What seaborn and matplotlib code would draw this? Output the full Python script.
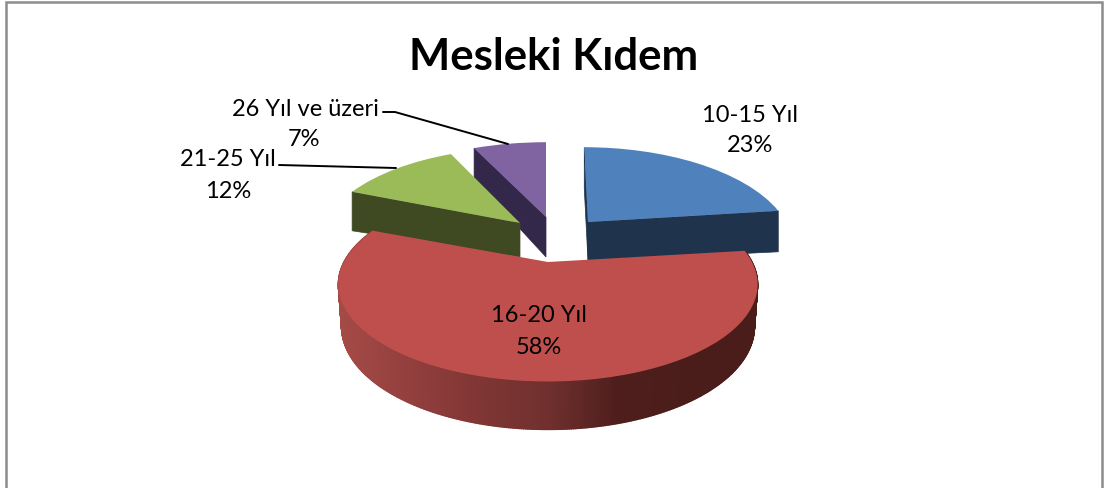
import numpy as np
import matplotlib
matplotlib.use("Agg")
import matplotlib.pyplot as plt
from matplotlib.transforms import Transform, Affine2D
import seaborn as sns

# ---- data ----
categories = ["10-15 Yıl", "16-20 Yıl", "21-25 Yıl", "26 Yıl ve üzeri"]
values = [23, 58, 12, 7]
percent_labels = ["23%", "58%", "12%", "7%"]
title = "Mesleki Kıdem"

# ---- styling / layout ----
top_colors = ["#4F81BD", "#BE4F4C", "#9BBB59", "#8064A2"]
side_colors = ["#1F334D", "#4A1D1B", "#3F4A22", "#33274A"]
rim_stops = ["#A54B47", "#933F3E", "#7F3634", "#70302E", "#4E1E1C", "#4A1D1B", "#4A1D1B"]
tips = [(588, 222), (548, 262), (520, 223), (546, 217)]
wedge_scale = [0.97, 1.0, 0.96, 1.0]
wedge_skew = [0.05, 0.0, 0.0, 0.0]
face_depth = [(41, 39), None, (39, 34), (31, 40)]
R, A, K = 204.0, 92.0, 0.23

sns.set_theme(style="white")
plt.rcParams["font.family"] = ["Lato", "DejaVu Sans"]


class Perspective(Transform):
    input_dims = output_dims = 2

    def transform_non_affine(self, values):
        v = np.asarray(values, dtype=float)
        w = 1 + K * v[:, 1]
        return np.column_stack([R * v[:, 0] / w, -A * v[:, 1] / w])


def project(theta_deg, i):
    t = np.radians(theta_deg)
    u, v = wedge_scale[i] * np.cos(t), np.sin(t)
    w = 1 + K * v
    dy = -A * v / w
    return tips[i][0] + R * u / w + wedge_skew[i] * dy, tips[i][1] + dy, v


fig = plt.figure(figsize=(11.07, 4.88), dpi=100)
ax = fig.add_axes([0, 0, 1, 1])
wedges, _ = ax.pie(values, startangle=90, counterclock=False, colors=top_colors,
                   wedgeprops={"linewidth": 0})
ax.set_aspect("auto")
ax.set_xlim(0, 1107)
ax.set_ylim(488, 0)
ax.set_axis_off()

persp = Perspective()
for i, wedge in enumerate(wedges):
    shear = Affine2D.from_values(1, 0, wedge_skew[i], 1, 0, 0)
    wedge.set_transform(Affine2D().scale(wedge_scale[i], 1) + persp + shear
                        + Affine2D().translate(*tips[i]) + ax.transData)

# draw order, back to front: purple, green, blue, red
for z, i in enumerate([3, 2, 0, 1]):
    wedge = wedges[i]
    wedge.set_zorder(10 + 2 * z + 1)
    if face_depth[i] is None:
        continue
    edges = sorted([wedge.theta1, wedge.theta2], key=lambda t: np.sin(np.radians(t)))
    visible = edges if wedge_skew[i] else edges[:1]
    for theta in visible:
        x, y, _v = project(theta, i)
        d_out, d_tip = face_depth[i]
        ax.fill([x, tips[i][0], tips[i][0], x],
                [y, tips[i][1], tips[i][1] + d_tip, y + d_out],
                color=side_colors[i], lw=0.5, zorder=10 + 2 * z)

# red outer rim with a horizontal shading
red = wedges[1]
th = np.linspace(red.theta1, red.theta2, 500)
xs, ys, vs = project(th, 1)
depth = 40 - 8 * np.minimum(vs, 0)
xb = tips[1][0] + (xs - tips[1][0]) * 0.985
yb = ys + depth
ramp = sns.blend_palette(rim_stops, 256)
for j in range(len(th) - 1):
    frac = (xs[j] - xs.min()) / (xs.max() - xs.min())
    ax.fill([xs[j], xs[j + 1], xb[j + 1], xb[j]],
            [ys[j], ys[j + 1], yb[j + 1], yb[j]],
            color=ramp[int(frac * 255)], lw=1.0, zorder=15.5)

# text
txt = dict(ha="center", va="center", fontsize=17, color="black", zorder=30)
label_xy = [((750, 116), (750, 146)), ((539, 316), (539, 348)),
            ((228, 160), (228, 192)), ((305, 109), (304, 139))]
for i, (a, b) in enumerate(label_xy):
    ax.text(*a, categories[i], **txt)
    ax.text(*b, percent_labels[i], **txt)
ax.text(554, 57, title, ha="center", va="center", fontsize=31.5,
        fontweight="bold", color="black", zorder=30)

# leader lines
ax.plot([383, 395, 508], [112, 112, 144], color="black", lw=1.4, zorder=30)
ax.plot([279, 396], [165, 168], color="black", lw=1.4, zorder=30)

# chart area border (no bottom edge visible)
ax.plot([6, 6, 1102, 1102], [488, 1.5, 1.5, 488], color="#8C8C8C", lw=1.8,
        zorder=5, solid_joinstyle="miter")

fig.savefig("out.png", dpi=100, facecolor="white")
